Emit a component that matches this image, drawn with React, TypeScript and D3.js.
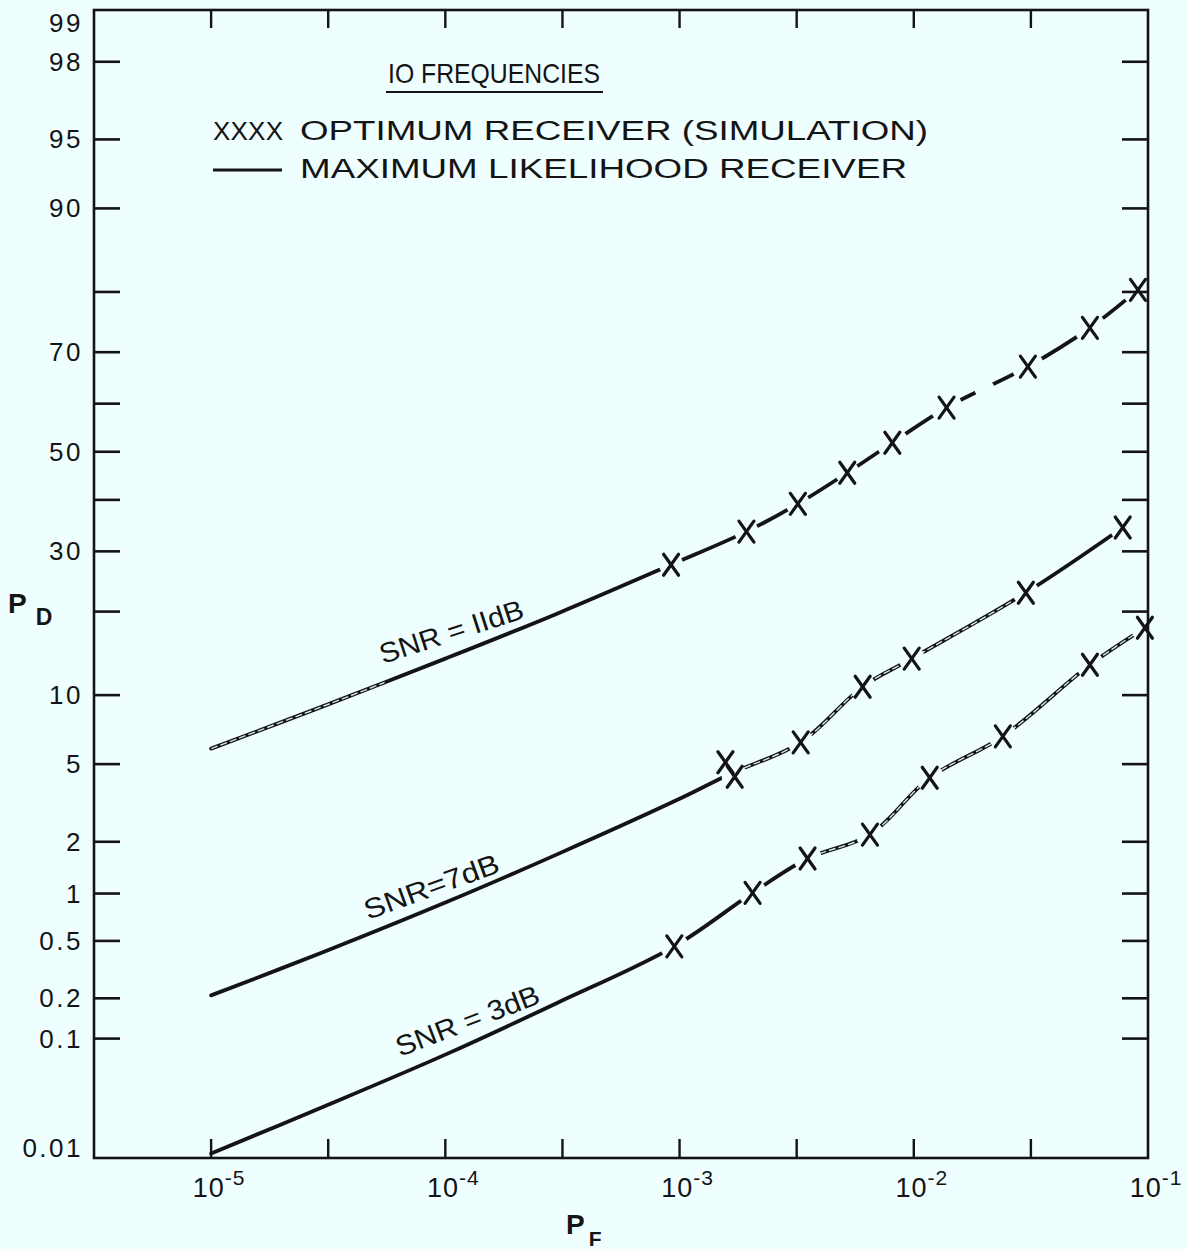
import React from "react";
import * as d3 from "d3";

const W = 1187;
const H = 1249;
const BG = "#effefe";
const INK = "#141414";
const FONT = "'Liberation Sans', Arial, Helvetica, sans-serif";

// P_D axis (percent, normal probability scale)
const pdTicks = [99, 98, 95, 90, 80, 70, 60, 50, 40, 30, 20, 10, 5, 2, 1, 0.5, 0.2, 0.1, 0.01];
const pdTickLabels = ["99", "98", "95", "90", "", "70", "", "50", "", "30", "", "10", "5", "2", "1", "0.5", "0.2", "0.1", "0.01"];
// P_F axis (log)
const pfDecades = [1e-5, 1e-4, 1e-3, 1e-2, 1e-1];
const pfDecadeExp = ["-5", "-4", "-3", "-2", "-1"];

// maximum likelihood receiver curves
const mlPF11 = [1e-5, 3e-5, 1e-4, 3e-4, 9.2e-4, 1.93e-3, 3.2e-3, 5.2e-3, 8.1e-3, 1.38e-2, 3.07e-2, 5.65e-2, 9.06e-2];
const mlPD11 = [5.9, 9.0, 13.8, 19.7, 27.6, 33.7, 39.2, 45.6, 51.9, 59.2, 67.3, 74.3, 80.3];
const mlPF7 = [1e-5, 3e-5, 1e-4, 3e-4, 1e-3, 1.65e-3, 3.29e-3, 6.05e-3, 9.8e-3, 3.01e-2, 7.8e-2];
const mlPD7 = [0.21, 0.42, 0.88, 1.7, 3.38, 4.5, 6.3, 10.8, 13.8, 22.9, 34.5];
const mlPF3 = [1e-5, 3e-5, 1e-4, 3e-4, 9.5e-4, 2.05e-3, 3.52e-3, 6.5e-3, 1.17e-2, 2.4e-2, 5.65e-2, 9.7e-2];
const mlPD3 = [0.011, 0.028, 0.075, 0.185, 0.46, 1.01, 1.61, 2.19, 4.3, 6.7, 13.1, 17.7];

// optimum receiver (simulation) points
const simPF11 = [9.2e-4, 1.93e-3, 3.2e-3, 5.2e-3, 8.1e-3, 1.38e-2, 3.07e-2, 5.65e-2, 9.06e-2];
const simPD11 = [27.6, 33.7, 39.2, 45.6, 51.9, 59.2, 67.3, 74.3, 80.3];
const simPF7 = [1.57e-3, 1.72e-3, 3.29e-3, 6.05e-3, 9.8e-3, 3.01e-2, 7.8e-2];
const simPD7 = [5.1, 4.35, 6.3, 10.8, 13.8, 22.9, 34.5];
const simPF3 = [9.5e-4, 2.05e-3, 3.52e-3, 6.5e-3, 1.17e-2, 2.4e-2, 5.65e-2, 9.7e-2];
const simPD3 = [0.46, 1.01, 1.61, 2.19, 4.3, 6.7, 13.1, 17.7];

const snrLabels = ["SNR = IIdB", "SNR=7dB", "SNR = 3dB"];

// inverse normal cdf (Acklam)
function probit(p: number) {
  const a = [-39.69683028665376, 220.9460984245205, -275.9285104469687, 138.357751867269, -30.66479806614716, 2.506628277459239];
  const b = [-54.47609879822406, 161.5858368580409, -155.6989798598866, 66.80131188771972, -13.28068155288572];
  const c = [-0.007784894002430293, -0.3223964580411365, -2.400758277161838, -2.549732539343734, 4.374664141464968, 2.938163982698783];
  const d = [0.007784695709041462, 0.3224671290700398, 2.445134137142996, 3.754408661907416];
  const plow = 0.02425;
  if (p < plow) {
    const q = Math.sqrt(-2 * Math.log(p));
    return (((((c[0] * q + c[1]) * q + c[2]) * q + c[3]) * q + c[4]) * q + c[5]) / ((((d[0] * q + d[1]) * q + d[2]) * q + d[3]) * q + 1);
  }
  if (p <= 1 - plow) {
    const q = p - 0.5;
    const r = q * q;
    return ((((((a[0] * r + a[1]) * r + a[2]) * r + a[3]) * r + a[4]) * r + a[5]) * q) / (((((b[0] * r + b[1]) * r + b[2]) * r + b[3]) * r + b[4]) * r + 1);
  }
  const q = Math.sqrt(-2 * Math.log(1 - p));
  return -(((((c[0] * q + c[1]) * q + c[2]) * q + c[3]) * q + c[4]) * q + c[5]) / ((((d[0] * q + d[1]) * q + d[2]) * q + d[3]) * q + 1);
}

const left = 94, right = 1148, top = 10, bottom = 1158;

const x = d3.scaleLog().domain([Math.pow(10, -5.5), 0.1]).range([left, right]);
const zScale = d3.scaleLinear().domain([probit(0.0001), probit(0.99)]).range([bottom, top]);
const y = (pd: number) => zScale(probit(pd / 100));

const line = d3
  .line<[number, number]>()
  .x((d) => x(d[0]))
  .y((d) => y(d[1]))
  .curve(d3.curveCatmullRom.alpha(0.5));

// pen style: gap around X marks, stretches drawn as hollow (double) stroke, extra breaks
const series = [
  { ml: d3.zip(mlPF11, mlPD11), sim: d3.zip(simPF11, simPD11), gap: 12, bigGapFrom: 8e-3, hollow: [[1e-5, 5.5e-5]], breaks: [0.02],
    label: snrLabels[0], lx: 383, ly: 664, rot: -18, len: 150 },
  { ml: d3.zip(mlPF7, mlPD7), sim: d3.zip(simPF7, simPD7), gap: 13, bigGapFrom: 1, hollow: [[1.6e-3, 2.6e-2]], breaks: [],
    label: snrLabels[1], lx: 368, ly: 920, rot: -20, len: 142 },
  { ml: d3.zip(mlPF3, mlPD3), sim: d3.zip(simPF3, simPD3), gap: 14, bigGapFrom: 1, hollow: [[3.6e-3, 0.1]], breaks: [],
    label: snrLabels[2], lx: 400, ly: 1057, rot: -21, len: 152 },
];

const minorPF = pfDecades.slice(0, -1).map((v) => v * Math.sqrt(10));

// y on a curve at a given P_F (interpolated in plotting coordinates)
function curveY(ml: number[][], pf: number) {
  const xs = ml.map((d) => Math.log10(d[0]));
  const zs = ml.map((d) => y(d[1]));
  const t = Math.log10(pf);
  for (let i = 0; i < xs.length - 1; i++) {
    if (t >= xs[i] && t <= xs[i + 1]) return zs[i] + ((t - xs[i]) / (xs[i + 1] - xs[i])) * (zs[i + 1] - zs[i]);
  }
  return zs[zs.length - 1];
}

export default function App() {
  return (
    <svg width={W} height={H} style={{ position: "absolute", left: 0, top: 0, background: BG }} fontFamily={FONT}>
      <rect width={W} height={H} fill={BG} />
      <defs>
        <mask id="gaps" maskUnits="userSpaceOnUse" x={0} y={0} width={W} height={H}>
          <rect width={W} height={H} fill="white" />
          {series.map((s, i) =>
            s.sim.map((p, j) => (
              <circle key={i + "-" + j} cx={x(p[0])} cy={y(p[1])} r={p[0] > s.bigGapFrom ? 16 : s.gap} fill="black" />
            ))
          )}
          {series.map((s, i) =>
            s.breaks.map((pf, j) => <circle key={"b" + i + "-" + j} cx={x(pf)} cy={curveY(s.ml as number[][], pf)} r={10} fill="black" />)
          )}
        </mask>
        {series.map((s, i) =>
          s.hollow.map((r, j) => (
            <clipPath key={i + "-" + j} id={`hollow-${i}-${j}`}>
              <rect x={x(r[0])} y={0} width={x(r[1]) - x(r[0])} height={H} />
            </clipPath>
          ))
        )}
      </defs>

      {/* ML curves */}
      <g mask="url(#gaps)">
        {series.map((s, i) => {
          const d = line(s.ml as [number, number][]) || "";
          return (
            <g key={i}>
              <path d={d} fill="none" stroke={INK} strokeWidth={3.8} strokeLinecap="round" />
              {s.hollow.map((r, j) => (
                <path key={j} d={d} fill="none" stroke="#d6e6e6" strokeWidth={1.4} clipPath={`url(#hollow-${i}-${j})`} strokeDasharray="7 3" />
              ))}
            </g>
          );
        })}
      </g>

      {/* simulation X marks */}
      {series.map((s, i) =>
        s.sim.map((p, j) => {
          const cx = x(p[0]);
          const cy = y(p[1]);
          return (
            <g key={i + "-" + j} stroke={INK} strokeWidth={3.2} strokeLinecap="round">
              <line x1={cx - 7.5} y1={cy - 10.5} x2={cx + 7.5} y2={cy + 10.5} />
              <line x1={cx + 7.5} y1={cy - 10.5} x2={cx - 7.5} y2={cy + 10.5} />
            </g>
          );
        })
      )}

      {/* SNR labels */}
      {series.map((s, i) => (
        <text key={i} transform={`translate(${s.lx},${s.ly}) rotate(${s.rot})`} fontSize={28} fill={INK} textLength={s.len} lengthAdjust="spacingAndGlyphs">
          {s.label}
        </text>
      ))}

      {/* frame */}
      <rect x={left} y={top} width={right - left} height={bottom - top} fill="none" stroke={INK} strokeWidth={2.6} />

      {/* y ticks */}
      {pdTicks.map((v, i) => {
        const yy = y(v);
        const inner = yy > top + 2 && yy < bottom - 2;
        return (
          <g key={v}>
            {inner && <line x1={left} x2={left + 26} y1={yy} y2={yy} stroke={INK} strokeWidth={2.6} />}
            {inner && <line x1={right - 26} x2={right} y1={yy} y2={yy} stroke={INK} strokeWidth={2.6} />}
            {pdTickLabels[i] && (
              <text x={83} y={Math.max(32, Math.min(1157, yy + 9))} textAnchor="end" fontSize={26} letterSpacing={2.5} fill={INK}>
                {pdTickLabels[i]}
              </text>
            )}
          </g>
        );
      })}

      {/* x ticks */}
      {[...pfDecades, ...minorPF].map((v) => {
        const xx = x(v);
        if (xx > right - 2) return null;
        return (
          <g key={v}>
            <line x1={xx} x2={xx} y1={bottom} y2={bottom - 19} stroke={INK} strokeWidth={2.4} />
            <line x1={xx} x2={xx} y1={top} y2={top + 18} stroke={INK} strokeWidth={2.4} />
          </g>
        );
      })}
      {pfDecades.map((v, i) => (
        <text key={v} x={x(v) + 8} y={1197} textAnchor="middle" fontSize={27} letterSpacing={1} fill={INK}>
          10
          <tspan dy={-12} fontSize={21}>
            {pfDecadeExp[i]}
          </tspan>
        </text>
      ))}

      {/* axis titles */}
      <text x={566} y={1234} fontSize={28} fontWeight="bold" fill={INK}>
        P
        <tspan dx={4} dy={12} fontSize={21}>
          F
        </tspan>
      </text>
      <text x={8} y={613} fontSize={28} fontWeight="bold" fill={INK}>
        P
        <tspan dx={9} dy={12} fontSize={23}>
          D
        </tspan>
      </text>

      {/* legend */}
      <text x={388} y={83} fontSize={28} fill={INK} textLength={212} lengthAdjust="spacingAndGlyphs">
        IO FREQUENCIES
      </text>
      <line x1={386} x2={603} y1={92} y2={92} stroke={INK} strokeWidth={2.2} />
      <text x={213} y={140} fontSize={26} fill={INK} textLength={70} lengthAdjust="spacing">
        XXXX
      </text>
      <text x={300} y={140} fontSize={27} fill={INK} textLength={628} lengthAdjust="spacingAndGlyphs">
        OPTIMUM RECEIVER (SIMULATION)
      </text>
      <line x1={213} x2={282} y1={170} y2={170} stroke={INK} strokeWidth={3.2} />
      <text x={300} y={178} fontSize={27} fill={INK} textLength={607} lengthAdjust="spacingAndGlyphs">
        MAXIMUM LIKELIHOOD RECEIVER
      </text>
    </svg>
  );
}
